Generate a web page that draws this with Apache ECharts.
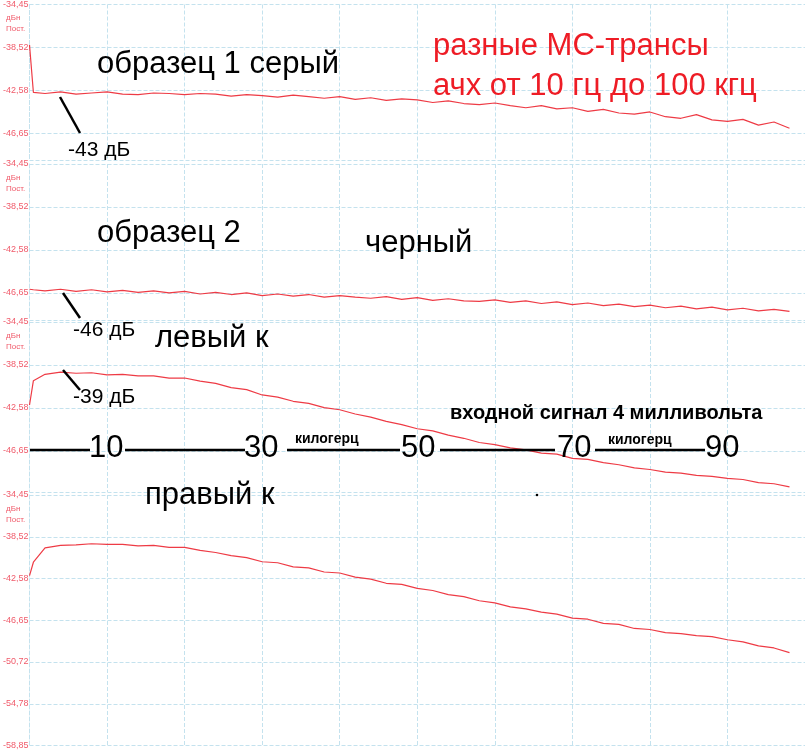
<!DOCTYPE html>
<html>
<head>
<meta charset="utf-8">
<script src="https://cdn.jsdelivr.net/npm/echarts@6/dist/echarts.min.js"></script>
<style>html,body{margin:0;padding:0;background:#fff}#main{width:805px;height:750px}</style>
</head>
<body>
<div id="main"></div>
<script>
// частота, кГц
var freq = [0, 0.5, 2, 4, 6, 8, 10, 12, 14, 16, 18, 20, 22, 24, 26, 28, 30, 32, 34, 36, 38, 40, 42, 44, 46, 48, 50,
  52, 54, 56, 58, 60, 62, 64, 66, 68, 70, 72, 74, 76, 78, 80, 82, 84, 86, 88, 90, 92, 94, 96, 98];

// образец 1 серый, дБн
var sample1 = [-38.3, -42.8, -42.9, -42.75, -42.95, -42.85, -42.75, -42.95, -43.0, -42.85, -42.9, -43.0, -42.9, -42.95, -43.15, -43.0, -43.1,
  -43.25, -43.05, -43.2, -43.35, -43.2, -43.45, -43.3, -43.55, -43.4, -43.5, -43.75, -43.6, -43.85, -43.95, -43.8, -44.05, -44.25, -44.05,
  -44.35, -44.25, -44.6, -44.4, -44.75, -44.85, -44.65, -45.1, -45.25, -44.9, -45.4, -45.55, -45.35, -45.9, -45.6, -46.2];

// образец 2 черный
var sample2 = [-46.3, -46.35, -46.45, -46.3, -46.5, -46.35, -46.55, -46.4, -46.6, -46.45, -46.65, -46.5, -46.75, -46.6, -46.8, -46.65, -46.9,
  -46.75, -46.95, -46.8, -47.05, -46.9, -47.05, -47.15, -47.0, -47.25, -47.1, -47.35, -47.2, -47.4, -47.45, -47.3, -47.55, -47.4, -47.65,
  -47.5, -47.75, -47.6, -47.85, -47.7, -47.95, -47.8, -48.05, -47.9, -48.15, -48.0, -48.25, -48.1, -48.35, -48.2, -48.4];

// левый к
var leftCh = [-42.3, -40.0, -39.4, -39.2, -39.3, -39.25, -39.45, -39.4, -39.55, -39.55, -39.75, -39.75, -40.05, -40.25, -40.65, -40.85, -41.35,
  -41.55, -41.95, -42.15, -42.55, -42.75, -43.15, -43.45, -43.85, -44.15, -44.55, -44.75, -45.15, -45.45, -45.85, -46.05, -46.35, -46.55, -46.85,
  -46.95, -47.35, -47.45, -47.75, -47.95, -48.25, -48.4, -48.65, -48.75, -48.95, -49.05, -49.25, -49.35, -49.65, -49.75, -50.05];

// правый к
var rightCh = [-42.3, -41.0, -39.6, -39.35, -39.3, -39.2, -39.25, -39.25, -39.4, -39.35, -39.55, -39.55, -39.85, -40.05, -40.35, -40.55, -40.95,
  -41.05, -41.45, -41.55, -41.95, -42.05, -42.45, -42.65, -43.05, -43.15, -43.55, -43.75, -44.15, -44.35, -44.75, -44.95, -45.35, -45.55, -45.85,
  -46.05, -46.45, -46.55, -46.95, -47.05, -47.45, -47.55, -47.85, -47.95, -48.15, -48.25, -48.55, -48.75, -49.15, -49.35, -49.8];

var yTop = 34.45, yStep = 4.0667;
var panels = [
  { data: sample1, top: 4, height: 156, max: 49.21 },
  { data: sample2, top: 164, height: 156, max: 49.21 },
  { data: leftCh, top: 322, height: 170, max: 50.53 },
  { data: rightCh, top: 495, height: 255, max: 58.85 }
];

var grids = [], xAxes = [], yAxes = [], series = [];
var gridLine = { show: true, lineStyle: { color: '#c4e2ee', type: 'dashed', width: 1 } };
panels.forEach(function (p, i) {
  grids.push({ left: 24, right: 0, top: p.top, height: p.height });
  xAxes.push({ type: 'value', gridIndex: i, min: 0, max: 100, interval: 10,
    axisLine: { show: false }, axisTick: { show: false }, axisLabel: { show: false }, splitLine: gridLine });
  yAxes.push({ type: 'value', gridIndex: i, inverse: true, min: yTop, max: p.max, interval: yStep,
    axisLine: { show: true, lineStyle: { color: '#c4e2ee', type: 'dashed' } }, axisTick: { show: false },
    splitLine: gridLine,
    axisLabel: { color: '#f05a6a', fontSize: 9, margin: 1, fontFamily: 'Liberation Sans',
      showMaxLabel: i === 3,
      formatter: function (v) { return '-' + v.toFixed(2).replace('.', ','); } } });
  series.push({ type: 'line', xAxisIndex: i, yAxisIndex: i, symbol: 'none', animation: false,
    lineStyle: { color: '#ee3b45', width: 1.2 },
    data: freq.map(function (f, k) { return [f, -p.data[k]]; }) });
});

function txt(x, y, s, size, color, bold) {
  return { type: 'text', left: x, top: y, z: 100,
    style: { text: s, fontSize: size, fill: color || '#000', fontFamily: 'Liberation Sans',
      fontWeight: bold ? 'bold' : 'normal' } };
}
function seg(x1, y1, x2, y2, w) {
  return { type: 'line', z: 100, shape: { x1: x1, y1: y1, x2: x2, y2: y2 },
    style: { stroke: '#000', lineWidth: w || 2.5 } };
}

var graphic = [];
[4, 164, 322, 495].forEach(function (t) {
  graphic.push(txt(6, t + 10, 'дБн', 8, '#f05a6a'));
  graphic.push(txt(6, t + 21, 'Пост.', 8, '#f05a6a'));
});
graphic.push(
  txt(97, 49, 'образец 1 серый', 31),
  txt(433, 31, 'разные МС-трансы', 31, '#ee1c25'),
  txt(433, 71, 'ачх от 10 гц до 100 кгц', 31, '#ee1c25'),
  seg(60, 97, 80, 133), txt(68, 140, '-43 дБ', 21),
  txt(97, 218, 'образец 2', 31), txt(365, 228, 'черный', 31),
  seg(63, 293, 80, 318), txt(73, 320, '-46 дБ', 21),
  txt(155, 323, 'левый к', 31),
  seg(63, 370, 80, 390), txt(73, 387, '-39 дБ', 21),
  txt(450, 403, 'входной сигнал 4 милливольта', 20, '#000', true),
  seg(30, 450, 90, 450), seg(125, 450, 245, 450), seg(287, 450, 400, 450), seg(440, 450, 555, 450), seg(595, 450, 705, 450),
  txt(89, 433, '10', 31), txt(244, 433, '30', 31), txt(401, 433, '50', 31), txt(557, 433, '70', 31), txt(705, 433, '90', 31),
  txt(295, 432, 'килогерц', 14, '#000', true), txt(608, 433, 'килогерц', 14, '#000', true),
  txt(145, 480, 'правый к', 31),
  { type: 'circle', shape: { cx: 537, cy: 495, r: 1.3 }, style: { fill: '#000' }, z: 100 }
);

var myChart = echarts.init(document.getElementById('main'));
myChart.setOption({
  animation: false,
  grid: grids, xAxis: xAxes, yAxis: yAxes, series: series, graphic: graphic
});
</script>
</body>
</html>
